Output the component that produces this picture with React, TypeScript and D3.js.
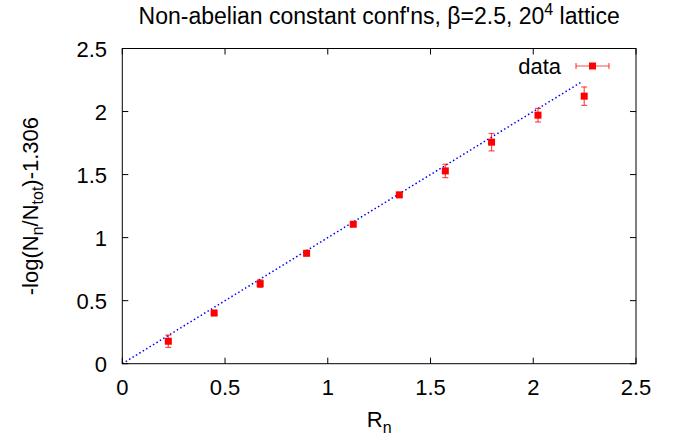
import React from "react";
import * as d3 from "d3";

const rn = [0.224, 0.447, 0.671, 0.897, 1.124, 1.348, 1.572, 1.797, 2.023, 2.248];
const vals = [0.178, 0.402, 0.635, 0.876, 1.106, 1.339, 1.529, 1.757, 1.971, 2.122];
const errs = [0.049, 0.02, 0.03, 0.02, 0.015, 0.02, 0.053, 0.069, 0.054, 0.073];
const xTicks = [0, 0.5, 1, 1.5, 2, 2.5];
const yTicks = [0, 0.5, 1, 1.5, 2, 2.5];
const fitSlope = 1.0;
const fitRange = [0, 2.235];

const W = 688, H = 441;
const L = 122.3, R = 636, T = 48.5, B = 363.7;
const FONT = "'Liberation Sans', Arial, Helvetica, sans-serif";
const FS = 22;
const SUB = 16;

export default function App() {
  const x = d3.scaleLinear().domain([0, 2.5]).range([L, R]);
  const y = d3.scaleLinear().domain([0, 2.5]).range([B, T]);
  const line = d3.line<number>().x((d) => x(d)).y((d) => y(fitSlope * d));
  const tl = 6;
  const red = "#ff0000";
  const errColor = "rgba(255,0,0,0.7)";
  const sq = 7;
  const cap = 3;
  return (
    <svg width={W} height={H} style={{ position: "absolute", left: 0, top: 0, background: "#fff" }} fontFamily={FONT}>
      <rect x={0} y={0} width={W} height={H} fill="#fff" />
      {/* title */}
      <text x={(L + R) / 2} y={24} fontSize={23} textAnchor="middle" fill="#000">
        Non-abelian constant conf'ns, β=2.5, 20
        <tspan dy={-9} fontSize={SUB}>4</tspan>
        <tspan dy={9}> lattice</tspan>
      </text>
      {/* ticks */}
      {xTicks.map((t) => (
        <g key={"x" + t}>
          <line x1={x(t)} x2={x(t)} y1={B} y2={B - tl} stroke="#000" />
          <line x1={x(t)} x2={x(t)} y1={T} y2={T + tl} stroke="#000" />
          <text x={x(t)} y={395} fontSize={FS} textAnchor="middle">{String(t)}</text>
        </g>
      ))}
      {yTicks.map((t) => (
        <g key={"y" + t}>
          <line x1={L} x2={L + tl} y1={y(t)} y2={y(t)} stroke="#000" />
          <line x1={R} x2={R - tl} y1={y(t)} y2={y(t)} stroke="#000" />
          <text x={107} y={y(t) + 8} fontSize={FS} textAnchor="end">{String(t)}</text>
        </g>
      ))}
      {/* fit line */}
      <path d={line(fitRange) || ""} stroke="#0000ff" strokeWidth={1.5} strokeDasharray="1.5,2.5" fill="none" />
      {/* data */}
      {rn.map((r, i) => (
        <g key={"p" + i}>
          <line x1={x(r)} x2={x(r)} y1={y(vals[i] - errs[i])} y2={y(vals[i] + errs[i])} stroke={errColor} strokeWidth={1.2} />
          <line x1={x(r) - cap} x2={x(r) + cap} y1={y(vals[i] - errs[i])} y2={y(vals[i] - errs[i])} stroke={errColor} strokeWidth={1.2} />
          <line x1={x(r) - cap} x2={x(r) + cap} y1={y(vals[i] + errs[i])} y2={y(vals[i] + errs[i])} stroke={errColor} strokeWidth={1.2} />
          <rect x={x(r) - sq / 2} y={y(vals[i]) - sq / 2} width={sq} height={sq} fill={red} />
        </g>
      ))}
      {/* legend */}
      <text x={561} y={74} fontSize={FS} textAnchor="end">data</text>
      <line x1={576} x2={609} y1={66} y2={66} stroke={errColor} strokeWidth={1.2} />
      <line x1={576} x2={576} y1={63} y2={69} stroke={errColor} strokeWidth={1.2} />
      <line x1={609} x2={609} y1={63} y2={69} stroke={errColor} strokeWidth={1.2} />
      <rect x={592.5 - sq / 2} y={66 - sq / 2} width={sq} height={sq} fill={red} />
      {/* border */}
      <rect x={L} y={T} width={R - L} height={B - T} fill="none" stroke="#000" strokeWidth={1} />
      {/* axis labels */}
      <text x={(L + R) / 2} y={427} fontSize={FS} textAnchor="middle">
        R<tspan dy={6} fontSize={SUB}>n</tspan>
      </text>
      <text transform={`translate(38,${(T + B) / 2}) rotate(-90)`} fontSize={FS} textAnchor="middle">
        -log(N<tspan dy={5} fontSize={SUB}>n</tspan>
        <tspan dy={-5}>/N</tspan>
        <tspan dy={5} fontSize={SUB}>tot</tspan>
        <tspan dy={-5}>)-1.306</tspan>
      </text>
    </svg>
  );
}
